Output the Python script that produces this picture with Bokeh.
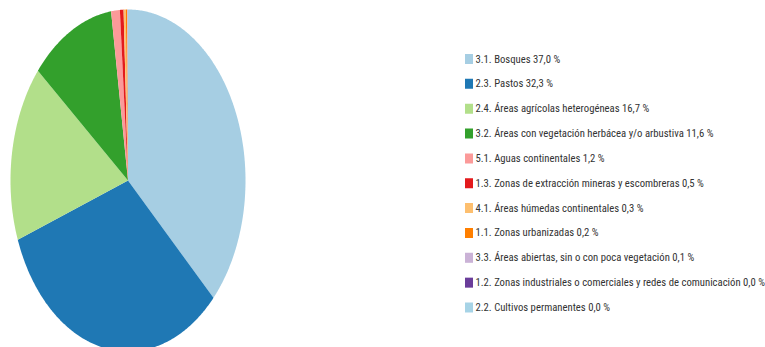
import numpy as np
from bokeh.plotting import figure
from bokeh.models import Range1d, ColumnDataSource
from bokeh.embed import file_html
from bokeh.resources import INLINE
from bokeh.core.properties import value

categories = [
    "3.1. Bosques",
    "2.3. Pastos",
    "2.4. Áreas agrícolas heterogéneas",
    "3.2. Áreas con vegetación herbácea y/o arbustiva",
    "5.1. Aguas continentales",
    "1.3. Zonas de extracción mineras y escombreras",
    "4.1. Áreas húmedas continentales",
    "1.1. Zonas urbanizadas",
    "3.3. Áreas abiertas, sin o con poca vegetación",
    "1.2. Zonas industriales o comerciales y redes de comunicación",
    "2.2. Cultivos permanentes",
]
values = [37.0, 32.3, 16.7, 11.6, 1.2, 0.5, 0.3, 0.2, 0.1, 0.0, 0.0]
colors = ["#a6cee3", "#1f78b4", "#b2df8a", "#33a02c", "#fb9a99", "#e31a1c",
          "#fdbf6f", "#ff7f00", "#cab2d6", "#6a3d9a", "#a6d3e6"]

W, H = 765, 347
p = figure(width=W, height=H, x_range=Range1d(0, W), y_range=Range1d(H, 0),
           output_backend="svg", toolbar_location=None, min_border=0)
p.axis.visible = False
p.grid.visible = False
p.outline_line_color = None

# elliptical pie (stretched vertically), starting at top, clockwise
cx, cy, rx, ry = 127.5, 180, 117.5, 171
total = sum(values)
start = 0.0
xs, ys, cols = [], [], []
for v, c in zip(values, colors):
    ext = v / total * 2 * np.pi
    if ext <= 0:
        continue
    n = max(3, int(ext / (2 * np.pi) * 600) + 3)
    t = np.linspace(start, start + ext, n)
    xs.append([cx] + list(cx + rx * np.sin(t)))
    ys.append([cy] + list(cy - ry * np.cos(t)))
    cols.append(c)
    start += ext
p.patches(xs, ys, fill_color=cols, line_color=None)

# legend
row0, step = 58.5, 24.85
rows = [row0 + i * step for i in range(len(categories))]
labels = [c + " " + f"{v:.1f}".replace(".", ",") + " %" for c, v in zip(categories, values)]
src = ColumnDataSource(dict(y=rows, label=labels, color=colors))
p.rect(x=468.5, y="y", width=8, height=10, fill_color="color", line_color=None, source=src)
p.text(x=475, y="y", text="label", source=src, text_baseline="middle",
       text_font=value("Roboto Condensed"), text_font_size="10.7px",
       text_color="#333333")

open("out.html", "w").write(file_html(p, INLINE))
